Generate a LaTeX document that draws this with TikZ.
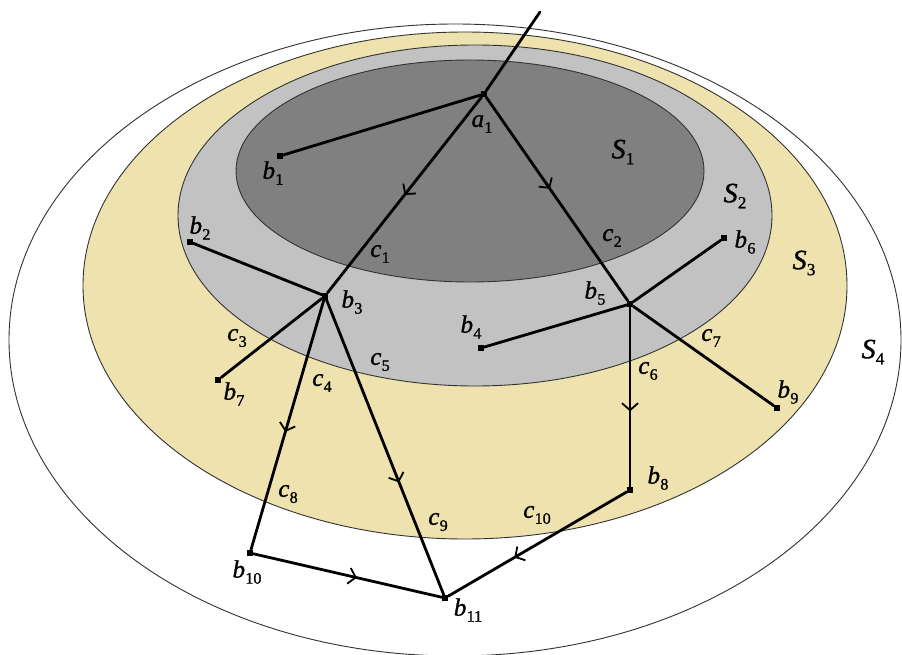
\documentclass[tikz,border=0pt]{standalone}
\usepackage{fontspec}
\setmainfont{Liberation Serif}
\newfontfamily\labfont[ItalicFont={Liberation Serif Italic}, UprightFeatures={FakeBold=1.2}, ItalicFeatures={FakeBold=1.2}]{Liberation Serif}
\usetikzlibrary{arrows.meta,decorations.markings}
\definecolor{sone}{RGB}{128,128,128}
\definecolor{stwo}{RGB}{194,194,194}
\definecolor{sthree}{RGB}{238,226,174}
\definecolor{rim}{RGB}{50,50,50}
\newcommand{\lbl}[2]{{\labfont\fontsize{25}{27}\selectfont\itshape #1}\kern0.3pt\raisebox{-6pt}{\labfont\fontsize{16}{17}\selectfont #2}}
\newcommand{\slbl}[2]{{\labfont\fontsize{28}{30}\selectfont\itshape #1}\kern0.3pt\raisebox{-6pt}{\labfont\fontsize{17}{18}\selectfont #2}}
\tikzset{
  ring/.style={draw=rim, line width=0.9pt},
  conn/.style={line width=2.8pt, line cap=round},
  dot/.style={rectangle, fill=black, inner sep=0pt, minimum size=6pt},
  lab/.style={inner sep=0pt},
  midarr/.style={postaction={decorate, decoration={markings, mark=at position #1 with {\arrow{Straight Barb[length=7pt,width=16pt,line width=1.8pt]}}}}}
}
\begin{document}
\begin{tikzpicture}[x=1pt,y=-1pt]
\useasboundingbox (0,0) rectangle (902,655);
\fill[white] (0,0) rectangle (902,655);
% regions
\draw[ring, fill=white] (455,340) ellipse [x radius=446, y radius=316];
\draw[ring, fill=sthree] (465,285.5) ellipse [x radius=382, y radius=253.5];
\draw[ring, fill=stwo] (475,215.5) ellipse [x radius=297, y radius=170.5];
\draw[ring, fill=sone] (470,171) ellipse [x radius=234, y radius=111];
% points
\coordinate (t) at (540,12);
\node[dot] (a1) at (484,94) {};
\node[dot] (b1) at (280,156) {};
\node[dot] (b2) at (190,242) {};
\node[dot] (b3) at (325,296) {};
\node[dot] (b4) at (481,348) {};
\node[dot] (b5) at (630,304) {};
\node[dot] (b6) at (724,238) {};
\node[dot] (b7) at (218,380) {};
\node[dot] (b8) at (630,490) {};
\node[dot] (b9) at (777,408) {};
\node[dot] (b10) at (250,553) {};
\node[dot] (b11) at (445,598) {};
% connectors
\draw[conn] (t) -- (a1);
\draw[conn] (a1) -- (b1);
\draw[conn, midarr=0.5] (a1) -- (b3);
\draw[conn, midarr=0.45] (a1) -- (b5);
\draw[conn] (b2) -- (b3);
\draw[conn] (b3) -- (b7);
\draw[conn, midarr=0.53] (b3) -- (b10);
\draw[conn, midarr=0.62] (b3) -- (b11);
\draw[conn] (b4) -- (b5);
\draw[conn] (b5) -- (b6);
\draw[conn] (b5) -- (b9);
\draw[conn, midarr=0.58] (b5) -- (b8);
\draw[conn, midarr=0.63] (b8) -- (b11);
\draw[conn, midarr=0.55] (b10) -- (b11);
% labels
\node[lab] (la1) at (482,124) {\lbl{a}{1}};
\node[lab] (lb1) at (273,173) {\lbl{b}{1}};
\node[lab] (lb2) at (200,228) {\lbl{b}{2}};
\node[lab] (lb3) at (352,302) {\lbl{b}{3}};
\node[lab] (lb4) at (471,327) {\lbl{b}{4}};
\node[lab] (lb5) at (595,293) {\lbl{b}{5}};
\node[lab] (lb6) at (745,242) {\lbl{b}{6}};
\node[lab] (lb7) at (234,394) {\lbl{b}{7}};
\node[lab] (lb8) at (658,478) {\lbl{b}{8}};
\node[lab] (lb9) at (788,392) {\lbl{b}{9}};
\node[lab] (lb10) at (247,572) {\lbl{b}{10}};
\node[lab] (lb11) at (468,610) {\lbl{b}{11}};
\node[lab] (lc1) at (380,254) {\lbl{c}{1}};
\node[lab] (lc2) at (612,238) {\lbl{c}{2}};
\node[lab] (lc3) at (237,338) {\lbl{c}{3}};
\node[lab] (lc4) at (322,383) {\lbl{c}{4}};
\node[lab] (lc5) at (380,362) {\lbl{c}{5}};
\node[lab] (lc6) at (648,371) {\lbl{c}{6}};
\node[lab] (lc7) at (711,338) {\lbl{c}{7}};
\node[lab] (lc8) at (288,494) {\lbl{c}{8}};
\node[lab] (lc9) at (438,522) {\lbl{c}{9}};
\node[lab] (lc10) at (537,515) {\lbl{c}{10}};
\node[lab] (ls1) at (623,152) {\slbl{S}{1}};
\node[lab] (ls2) at (735,196) {\slbl{S}{2}};
\node[lab] (ls3) at (804,263) {\slbl{S}{3}};
\node[lab] (ls4) at (873,352) {\slbl{S}{4}};
\end{tikzpicture}
\end{document}
